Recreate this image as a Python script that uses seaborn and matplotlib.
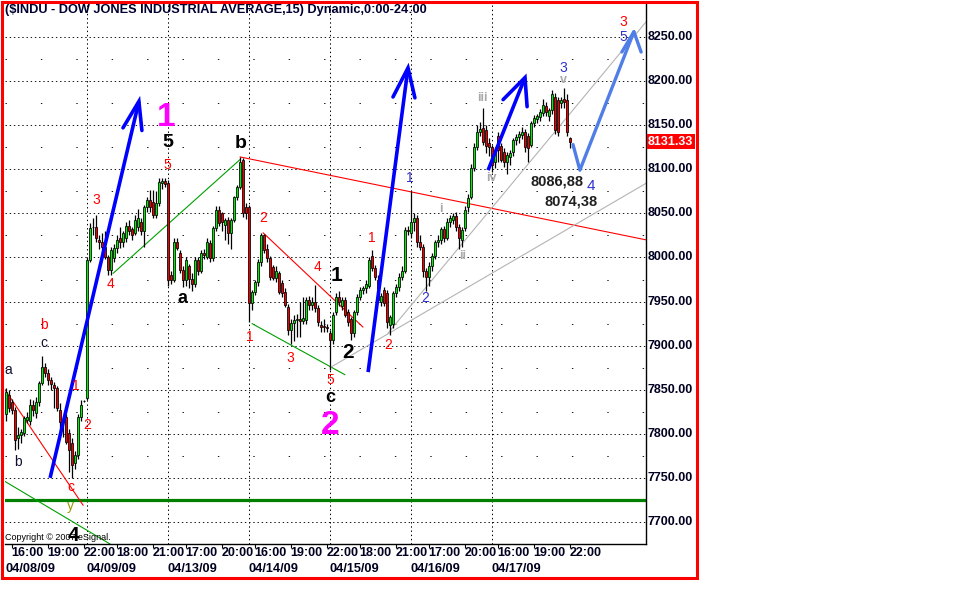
import numpy as np
import pandas as pd
import matplotlib
matplotlib.use("Agg")
import matplotlib.pyplot as plt
import seaborn as sns
from matplotlib.patches import Rectangle
from matplotlib.transforms import blended_transform_factory

# ---------------- data (15-minute bars, 27 per session) ----------------
opens = [
    7823, 7844, 7836, 7827, 7795, 7799, 7801, 7816, 7815, 7833, 7824, 7836, 7858, 7876, 7869, 7861, 7855, 7852, 7827, 7813, 7819, 7801, 7790, 7767, 7776, 7819, 7837,
    7841, 7997, 8034, 8035, 8020, 8018, 8012, 8000, 7986, 7999, 8011, 8022, 8017, 8022, 8036, 8032, 8028, 8035, 8040, 8030, 8057, 8065, 8063, 8048, 8062, 8084, 8087,
    8084, 7980, 7975, 8018, 8005, 7986, 7975, 7990, 7976, 7970, 7997, 7985, 8005, 8000, 8016, 7999, 8033, 8054, 8050, 8037, 8043, 8028, 8043, 8068, 8080, 8110, 8057,
    8057, 7948, 7961, 7972, 7995, 8025, 8010, 7999, 7989, 7977, 7982, 7971, 7961, 7944, 7918, 7926, 7929, 7930, 7928, 7929, 7952, 7946, 7950, 7943, 7923, 7922, 7921,
    7914, 7906, 7938, 7955, 7945, 7952, 7938, 7930, 7914, 7938, 7955, 7963, 7965, 7968, 8002, 7988, 7975, 7950, 7963, 7960, 7923, 7925, 7960, 7967, 7978, 7985, 8031,
    8028, 8040, 8045, 8018, 8012, 7985, 7978, 7990, 8002, 8017, 8020, 8032, 8022, 8040, 8043, 8047, 8035, 8020, 8033, 8057, 8069, 8102, 8125, 8142, 8147, 8145, 8130,
    8125, 8108, 8138, 8126, 8120, 8108, 8114, 8120, 8133, 8137, 8139, 8142, 8138, 8128, 8152, 8157, 8159, 8164, 8172, 8160, 8167, 8182, 8178, 8175, 8180, 8178, 8135,
]
highs = [
    7852, 7850, 7840, 7830, 7808, 7806, 7820, 7825, 7840, 7838, 7842, 7860, 7888, 7880, 7873, 7864, 7859, 7854, 7835, 7819, 7822, 7805, 7795, 7780, 7822, 7838, 7838,
    8000, 8039, 8045, 8048, 8025, 8028, 8030, 8003, 8012, 8015, 8025, 8034, 8030, 8040, 8042, 8035, 8048, 8055, 8045, 8060, 8068, 8077, 8077, 8075, 8090, 8090, 8090,
    8088, 7985, 8022, 8022, 8008, 7990, 8000, 7993, 7982, 8000, 8000, 8008, 8010, 8022, 8020, 8036, 8058, 8058, 8052, 8045, 8046, 8045, 8070, 8082, 8114, 8113, 8062,
    8060, 7963, 7975, 7998, 8028, 8027, 8015, 8002, 7992, 7990, 7985, 7975, 7965, 7947, 7930, 7935, 7936, 7950, 7955, 7955, 7956, 7955, 7969, 7946, 7928, 7930, 7925,
    7918, 7938, 7960, 7962, 7955, 7955, 7942, 7933, 7940, 7958, 7966, 7968, 7975, 8000, 8008, 7992, 7980, 7960, 7966, 7963, 7935, 7962, 7970, 7982, 7990, 8035, 8036,
    8075, 8050, 8048, 8025, 8015, 7988, 7995, 8005, 8020, 8025, 8035, 8036, 8045, 8048, 8050, 8052, 8038, 8035, 8058, 8072, 8106, 8130, 8150, 8154, 8170, 8150, 8135,
    8128, 8125, 8142, 8130, 8124, 8120, 8122, 8136, 8140, 8143, 8148, 8146, 8141, 8155, 8162, 8163, 8168, 8180, 8176, 8170, 8190, 8186, 8182, 8182, 8192, 8185, 8137,
]
lows = [
    7815, 7825, 7822, 7782, 7783, 7790, 7798, 7812, 7810, 7820, 7818, 7832, 7855, 7865, 7855, 7850, 7829, 7826, 7801, 7796, 7788, 7757, 7750, 7760, 7772, 7815, 7836,
    7838, 7995, 8025, 8018, 8010, 8005, 7998, 7980, 7980, 7995, 8005, 8011, 8012, 8018, 8025, 8020, 8025, 8030, 8025, 8012, 8052, 8052, 8045, 8045, 8058, 8078, 8080,
    7968, 7970, 7972, 8008, 7982, 7966, 7968, 7965, 7962, 7966, 7980, 7982, 7998, 7998, 7995, 7996, 8030, 8036, 8030, 8020, 8015, 8010, 8040, 8065, 8078, 8046, 8044,
    7927, 7940, 7957, 7968, 7990, 8005, 7995, 7975, 7974, 7972, 7958, 7955, 7944, 7912, 7902, 7905, 7910, 7910, 7925, 7925, 7940, 7940, 7938, 7922, 7915, 7915, 7915,
    7872, 7902, 7935, 7945, 7940, 7932, 7922, 7906, 7910, 7935, 7952, 7958, 7960, 7965, 7985, 7975, 7950, 7945, 7945, 7920, 7912, 7920, 7955, 7962, 7975, 7982, 8025,
    8022, 8030, 8012, 8008, 7978, 7962, 7968, 7985, 7998, 8012, 8015, 8018, 8020, 8035, 8038, 8030, 8010, 8012, 8030, 8052, 8066, 8098, 8122, 8138, 8128, 8118, 8115,
    8097, 8102, 8108, 8108, 8103, 8095, 8105, 8115, 8128, 8130, 8134, 8120, 8108, 8125, 8148, 8152, 8155, 8160, 8160, 8155, 8163, 8140, 8138, 8170, 8170, 8138, 8124,
]
closes = [
    7847, 7829, 7827, 7793, 7799, 7802, 7818, 7819, 7833, 7827, 7836, 7858, 7876, 7869, 7861, 7856, 7852, 7829, 7813, 7816, 7791, 7782, 7765, 7776, 7819, 7833, 7837,
    7997, 8033, 8035, 8022, 8018, 8012, 8000, 7986, 8008, 8011, 8020, 8017, 8028, 8036, 8030, 8026, 8043, 8045, 8030, 8057, 8065, 8057, 8048, 8062, 8086, 8087, 8083,
    7974, 7975, 8018, 8011, 7986, 7975, 7997, 7976, 7970, 7997, 7985, 8005, 8003, 8018, 7999, 8033, 8054, 8039, 8040, 8043, 8028, 8043, 8068, 8080, 8108, 8050, 8050,
    7948, 7961, 7972, 7995, 8025, 8008, 7999, 7978, 7977, 7985, 7961, 7960, 7946, 7918, 7926, 7929, 7930, 7928, 7931, 7952, 7946, 7950, 7943, 7927, 7921, 7921, 7920,
    7906, 7935, 7955, 7950, 7952, 7935, 7927, 7914, 7938, 7955, 7963, 7965, 7970, 7997, 7988, 7978, 7952, 7956, 7948, 7927, 7932, 7960, 7967, 7978, 7985, 8031, 8030,
    8040, 8045, 8018, 8012, 7985, 7978, 7990, 8002, 8017, 8020, 8032, 8022, 8040, 8045, 8047, 8035, 8022, 8031, 8054, 8067, 8102, 8125, 8142, 8146, 8131, 8126, 8125,
    8105, 8122, 8122, 8110, 8108, 8116, 8118, 8133, 8137, 8140, 8142, 8125, 8124, 8152, 8158, 8160, 8165, 8173, 8165, 8167, 8185, 8145, 8142, 8178, 8176, 8142, 8131,
]

session_dates = ["04/08/09", "04/09/09", "04/13/09", "04/14/09", "04/15/09", "04/16/09", "04/17/09"]
bars_per_session = 27
time_tick_bars = [2, 14, 26, 37, 49, 60, 72, 83, 95, 107, 118, 130, 141, 153, 164, 176, 188]
time_tick_labels = ["16:00", "19:00", "22:00", "18:00", "21:00", "17:00", "20:00", "16:00",
                    "19:00", "22:00", "18:00", "21:00", "17:00", "20:00", "16:00", "19:00", "22:00"]
price_levels = [7700, 7750, 7800, 7850, 7900, 7950, 8000, 8050, 8100, 8150, 8200, 8250]
last_price = 8131.33
support_level = 7725
target_labels = ["8086,88", "8074,38"]

# ---------------- annotation geometry (bar index, price) ----------------
thin_lines = [  # (x0, y0, x1, y1, color)
    (-1.33, 7855, 25.7, 7719, "#ff0000"),
    (-1.33, 7748, 34.7, 7675, "#00a000"),
    (35.7, 7982, 78.0, 8111, "#00a000"),
    (78.0, 8114, 213.3, 8020, "#ff0000"),
    (85.7, 8028, 119.0, 7921, "#ff0000"),
    (82.0, 7925, 113.0, 7867, "#00a000"),
    (108.0, 7875, 213.3, 8084, "#b4b4b4"),
    (127.3, 7914, 213.3, 8267, "#b4b4b4"),
]
blue_arrows = [  # shaft start, tip, left barb, right barb
    [(14.7, 7750), (44.3, 8177), (39.0, 8147), (45.3, 8144)],
    [(120.7, 7870), (134.0, 8215), (129.0, 8182), (136.3, 8181)],
    [(160.7, 8099), (173.0, 8204), (165.7, 8179), (173.7, 8171)],
]
forecast_path = [(189.0, 8128), (191.3, 8099), (209.3, 8256)]
forecast_head = [(205.3, 8233), (209.3, 8256), (211.7, 8233)]

RED, DARK, MAG, BLUE, GREY, OLIVE = "#ff0000", "#101030", "#ff00ff", "#3030d0", "#a8a8a8", "#9a9a00"
labels = [  # text, x, y, color, size, weight
    ("a", 0.67, 7872, DARK, 10, "normal"), ("b", 12.67, 7923, RED, 10, "normal"),
    ("c", 12.67, 7903, DARK, 10, "normal"), ("b", 4.0, 7768, DARK, 10, "normal"),
    ("1", 23.33, 7854, RED, 10, "normal"), ("2", 27.0, 7810, RED, 10, "normal"),
    ("c", 21.67, 7740, RED, 10, "normal"), ("y", 21.33, 7718, OLIVE, 10, "normal"),
    ("4", 22.33, 7685, "black", 15, "bold"),
    ("3", 30.0, 8065, RED, 10, "normal"), ("4", 34.67, 7970, RED, 10, "normal"),
    ("1", 53.33, 8159, MAG, 24, "bold"), ("5", 54.0, 8130, "black", 14, "bold"),
    ("5", 53.67, 8105, RED, 10, "normal"), ("b", 78.33, 8129, "black", 14, "bold"),
    ("a", 59.0, 7954, "black", 13, "bold"),
    ("2", 85.67, 8045, RED, 10, "normal"), ("1", 81.33, 7910, RED, 10, "normal"),
    ("3", 94.67, 7886, RED, 10, "normal"), ("4", 103.67, 7989, RED, 10, "normal"),
    ("5", 108.0, 7861, RED, 10, "normal"),
    ("1", 110.33, 7980, "black", 15, "bold"), ("2", 114.0, 7892, "black", 15, "bold"),
    ("c", 108.0, 7841, "black", 13, "bold"), ("2", 108.0, 7810, MAG, 24, "bold"),
    ("1", 122.0, 8022, RED, 10, "normal"), ("2", 127.33, 7901, RED, 10, "normal"),
    ("1", 134.67, 8090, BLUE, 10, "normal"), ("2", 139.67, 7954, BLUE, 10, "normal"),
    ("i", 145.0, 8055, GREY, 9, "bold"), ("ii", 152.33, 8002, GREY, 9, "bold"),
    ("iii", 158.67, 8181, GREY, 9, "bold"), ("iv", 161.67, 8090, GREY, 9, "bold"),
    ("v", 185.67, 8201, GREY, 9, "bold"), ("3", 185.67, 8215, BLUE, 10, "normal"),
    ("4", 195.0, 8081, BLUE, 11, "normal"),
    ("3", 205.67, 8267, RED, 10, "normal"), ("5", 205.67, 8250, BLUE, 10, "normal"),
]

# ---------------- style ----------------
sns.set_style("white")
plt.rcParams["font.family"] = ["Liberation Sans", "DejaVu Sans"]

W, H = 960, 600
fig = plt.figure(figsize=(W / 100, H / 100), dpi=100)
fig.patch.set_facecolor("white")
ax = fig.add_axes([5 / W, 56 / H, 641 / W, 542 / H])
ax.set_facecolor("white")

df = pd.DataFrame({"open": opens, "high": highs, "low": lows, "close": closes})
df["bar"] = np.arange(len(df))

ax.set_xlim(-1 / 3, 640 / 3)
ax.set_ylim(7675.05, 8289.7)

# grid
for lvl in range(7700, 8275, 25):
    major = lvl % 50 == 0
    ax.axhline(lvl, color="black", lw=0.72, zorder=0,
               dashes=(1.4, 2.8) if major else (1.4, 34), alpha=0.9)
for d in range(1, len(session_dates)):
    ax.axvline(d * bars_per_session, color="black", lw=0.72, dashes=(1.4, 2.8), zorder=0)

# support line
ax.axhline(support_level, color="#008000", lw=2.3, zorder=1)

# thin trend lines (seaborn)
for x0, y0, x1, y1, col in thin_lines:
    seg = pd.DataFrame({"x": [x0, x1], "y": [y0, y1]})
    sns.lineplot(data=seg, x="x", y="y", ax=ax, color=col, lw=0.8, zorder=2, legend=False)

# candles
ax.vlines(df["bar"], df["low"], df["high"], color="black", lw=0.9, zorder=3)
body = (df["close"] - df["open"])
hgt = body.where(body.abs() > 0.6, 0.6)
up = df["close"] >= df["open"]
ax.bar(df["bar"][up], hgt[up], bottom=df["open"][up], width=0.88,
       color="#00ee00", edgecolor="black", linewidth=0.55, zorder=4)
ax.bar(df["bar"][~up], hgt[~up], bottom=df["open"][~up], width=0.88,
       color="#ee0000", edgecolor="black", linewidth=0.55, zorder=4)

# wave arrows
for shaft0, tip, lb, rb in blue_arrows:
    ax.plot([shaft0[0], tip[0]], [shaft0[1], tip[1]], color="#0000ff", lw=2.6,
            solid_capstyle="butt", zorder=6)
    ax.plot([lb[0], tip[0], rb[0]], [lb[1], tip[1], rb[1]], color="#0000ff", lw=2.6,
            solid_joinstyle="miter", zorder=6)
ax.plot([p[0] for p in forecast_path], [p[1] for p in forecast_path], color="#4f7fe6",
        lw=2.4, zorder=6, solid_joinstyle="round")
ax.plot([p[0] for p in forecast_head], [p[1] for p in forecast_head], color="#4f7fe6",
        lw=2.4, zorder=6)

# wave labels
for t, x, y, col, sz, wt in labels:
    ax.text(x, y, t, color=col, fontsize=sz, fontweight=wt, ha="center", va="center", zorder=7)
ax.text(183.67, 8086.7, target_labels[0], color="#202020", fontsize=10.5, fontweight="bold",
        ha="center", va="center", zorder=7)
ax.text(188.33, 8062.9, target_labels[1], color="#202020", fontsize=10.5, fontweight="bold",
        ha="center", va="center", zorder=7)

# spines / ticks
for s in ["left", "top"]:
    ax.spines[s].set_visible(False)
for s in ["bottom", "right"]:
    ax.spines[s].set_visible(True)
    ax.spines[s].set_color("black")
    ax.spines[s].set_linewidth(1.0)
ax.set_xticks(time_tick_bars)
ax.set_xticklabels([])
ax.tick_params(axis="x", direction="out", length=3, width=0.8, color="black", bottom=True)
ax.set_yticks([])
ax.set_xlabel("")
ax.set_ylabel("")

tx = blended_transform_factory(ax.transData, fig.transFigure)
for b, lab in zip(time_tick_bars, time_tick_labels):
    ax.text(b - 0.2, 1 - 553 / H, lab, transform=tx, fontsize=9, fontweight="bold",
            color="#000020", ha="left", va="center")
for d, lab in enumerate(session_dates):
    ax.text(d * bars_per_session - 0.3, 1 - 569 / H, lab, transform=tx, fontsize=9.2,
            fontweight="bold", color="#000020", ha="left", va="center")

ty = blended_transform_factory(fig.transFigure, ax.transData)
for lvl in price_levels:
    ax.text(648 / W, lvl, f"{lvl:.2f}", transform=ty, fontsize=9, fontweight="bold",
            color="#000020", ha="left", va="center", clip_on=False)
ax.text(648 / W, last_price, f"{last_price:.2f}", transform=ty, fontsize=9, fontweight="bold",
        color="white", ha="left", va="center", clip_on=False,
        bbox=dict(boxstyle="square,pad=0.12", fc="#ff0000", ec="none"))

# title and copyright
fig.text(5 / W, 1 - 10 / H, "($INDU - DOW JONES INDUSTRIAL AVERAGE,15) Dynamic,0:00-24:00",
         fontsize=9.2, fontweight="bold", color="#000030", ha="left", va="center")
fig.text(5 / W, 1 - 537 / H, "Copyright \u00a9 2007 eSignal.", fontsize=6.5, color="black",
         ha="left", va="center")

# red frame
fig.add_artist(Rectangle((1.5 / W, 1 - 577.5 / H), 695 / W, 576 / H, transform=fig.transFigure,
                         fill=False, ec="#ff0000", lw=2.2))

fig.savefig("out.png", dpi=100, facecolor="white")
